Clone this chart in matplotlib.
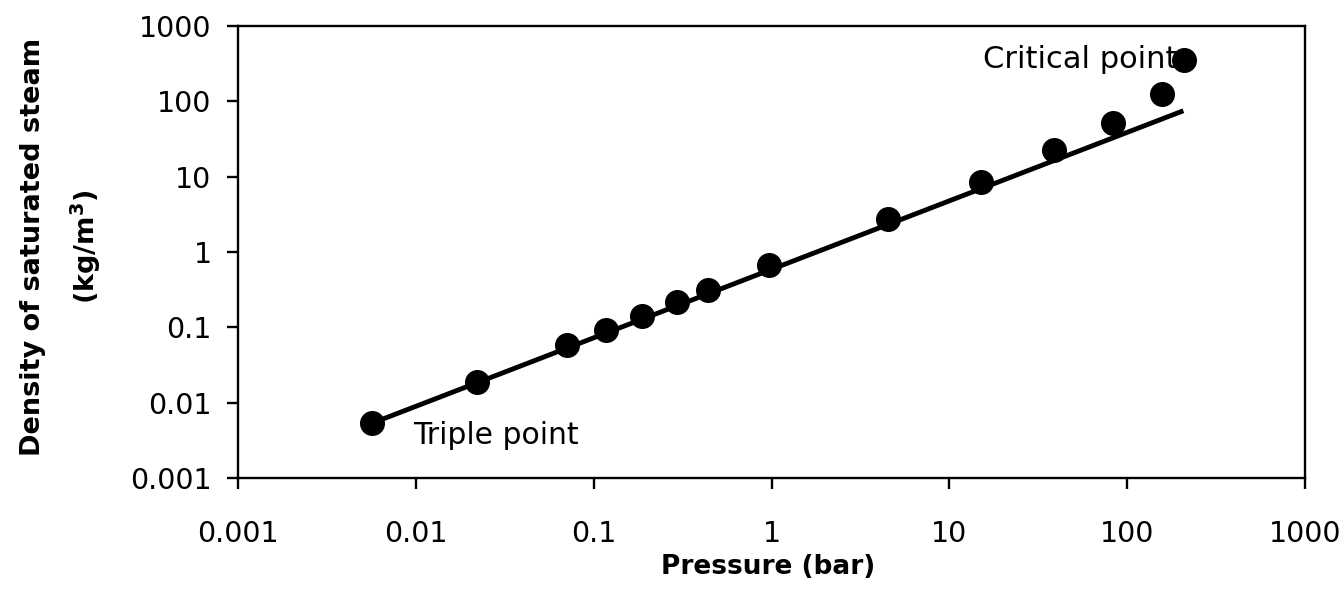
import matplotlib
matplotlib.use("Agg")
import matplotlib.pyplot as plt
from matplotlib.ticker import FixedLocator, FixedFormatter, NullLocator

# Data (Pressure in bar, density in kg/m3)
pressure = [0.00565, 0.022, 0.0707, 0.1175, 0.188, 0.293, 0.44, 0.97,
            4.53, 15.1, 39.0, 83.1, 156.7, 207.4]
density = [0.00532, 0.019, 0.0582, 0.092, 0.1426, 0.219, 0.313, 0.67,
           2.74, 8.58, 22.6, 51.1, 124.0, 354.0]

# Trend line end points
trend_x = [0.00565, 207.0]
trend_y = [0.00532, 75.0]

tick_vals = [0.001, 0.01, 0.1, 1, 10, 100, 1000]
tick_labels = ["0.001", "0.01", "0.1", "1", "10", "100", "1000"]

plt.rcParams['font.family'] = ['DejaVu Sans']

W, H = 1342, 592
fig = plt.figure(figsize=(W / 100, H / 100), dpi=100)
ax = fig.add_axes([238 / W, 1 - 478 / H, (1305 - 238) / W, (478 - 26) / H])

ax.set_xscale('log')
ax.set_yscale('log')
ax.set_xlim(0.001, 1000)
ax.set_ylim(0.001, 1000)

ax.plot(trend_x, trend_y, color='black', lw=3.5, zorder=2, solid_capstyle='butt')
ax.plot(pressure, density, linestyle='none', marker='o', markersize=17,
        color='black', zorder=3)

for axis in (ax.xaxis, ax.yaxis):
    axis.set_major_locator(FixedLocator(tick_vals))
    axis.set_major_formatter(FixedFormatter(tick_labels))
    axis.set_minor_locator(NullLocator())

ax.tick_params(axis='both', direction='out', length=8, width=1.7,
               labelsize=20.5, top=False, right=False)
ax.tick_params(axis='x', pad=22)
ax.tick_params(axis='y', pad=11)
for s in ax.spines.values():
    s.set_linewidth(1.7)

ax.annotate("Triple point", xy=(pressure[0], density[0]), xytext=(29.5, -9),
            textcoords='offset points', ha='left', va='center', fontsize=21.5)
ax.annotate("Critical point", xy=(pressure[-1], density[-1]), xytext=(-4, 0),
            textcoords='offset points', ha='right', va='center', fontsize=22,
            zorder=1)

fig.text(768 / W, 1 - 567 / H, "Pressure (bar)", ha='center', va='center',
         fontsize=19, fontweight='bold')
fig.text(33 / W, 1 - 247 / H, "Density of saturated steam", ha='center',
         va='center', rotation=90, fontsize=19.5, fontweight='bold')
fig.text(86 / W, 1 - 247 / H, r"(kg/m$^{\mathbf{3}}$)", ha='center',
         va='center', rotation=90, fontsize=19.5, fontweight='bold')

fig.savefig("out.png", dpi=100)
